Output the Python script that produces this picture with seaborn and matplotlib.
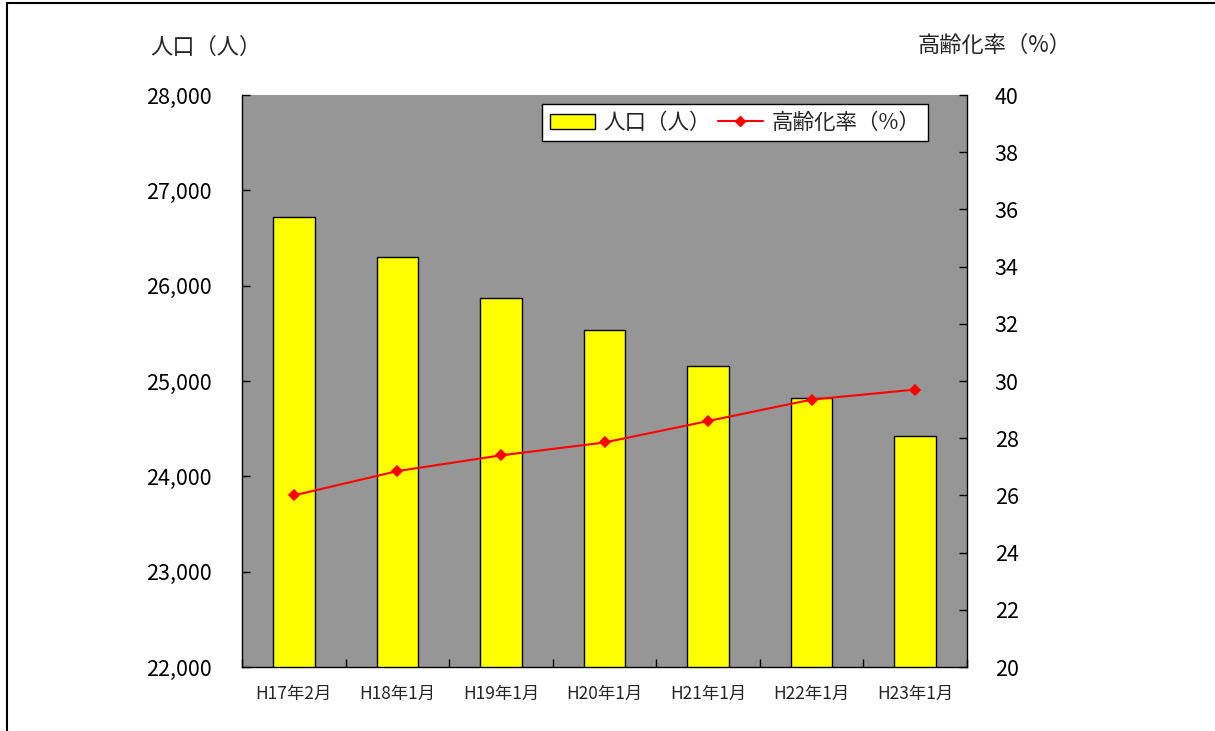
import matplotlib
matplotlib.use("Agg")
import matplotlib.pyplot as plt
import seaborn as sns
import pandas as pd
from matplotlib.patches import Rectangle, Patch
from matplotlib.lines import Line2D
from matplotlib.ticker import FuncFormatter, FixedLocator

categories = ["H17年2月", "H18年1月", "H19年1月", "H20年1月", "H21年1月", "H22年1月", "H23年1月"]
population = [26720, 26300, 25870, 25535, 25155, 24820, 24420]
aging_rate = [26.0, 26.85, 27.4, 27.85, 28.6, 29.35, 29.7]

sns.set_theme(style="white")
plt.rcParams['font.family'] = ['Noto Sans CJK JP', 'DejaVu Sans']

df = pd.DataFrame({"cat": categories, "pop": population, "rate": aging_rate})

fig = plt.figure(figsize=(12.15, 7.31), dpi=100)
ax = fig.add_axes([242/1215, 64/731, 725/1215, 572/731])
ax.set_facecolor("#969696")

sns.barplot(data=df, x="cat", y="pop", ax=ax, color="#FFFF00", edgecolor="black",
            linewidth=1.0, width=0.4, saturation=1)
ax.set_ylim(22000, 28000)
ax.set_xlim(-0.5, 6.5)
ax.set_yticks(range(22000, 28001, 1000))
ax.yaxis.set_major_formatter(FuncFormatter(lambda v, p: f"{int(v):,}"))
ax.set_xlabel("")
ax.set_ylabel("")

ax2 = ax.twinx()
sns.pointplot(data=df, x="cat", y="rate", ax=ax2, color="red", markers="D",
              linewidth=1.5, markersize=5)
ax2.set_ylim(20, 40)
ax2.set_xlim(-0.5, 6.5)
ax2.set_yticks(range(20, 41, 2))
ax2.set_ylabel("")
ax2.set_xlabel("")

for a in (ax, ax2):
    for s in a.spines.values():
        s.set_visible(False)
ax.spines['left'].set_visible(True)
ax.spines['bottom'].set_visible(True)
ax2.spines['right'].set_visible(True)
for s in (ax.spines['left'], ax.spines['bottom'], ax2.spines['right']):
    s.set_color("black")
    s.set_linewidth(1.0)

ax.tick_params(axis='y', direction='in', length=6, width=1, colors='black', labelsize=15.5, pad=22, left=True)
ax2.tick_params(axis='y', direction='in', length=6, width=1, colors='black', labelsize=15.5, pad=20, right=True)
ax.tick_params(axis='x', which='major', length=0, labelsize=12.5, pad=13)
ax.xaxis.set_minor_locator(FixedLocator([i + 0.5 for i in range(-1, 7)]))
ax.tick_params(axis='x', which='minor', direction='in', length=6, width=1, bottom=True, colors='black')

handles = [Patch(facecolor="#FFFF00", edgecolor="black", label="人口（人）"),
           Line2D([0], [0], color="red", marker="D", markersize=5, lw=1.5, label="高齢化率（%）")]
leg = ax2.legend(handles=handles, loc="upper right", bbox_to_anchor=(0.946, 0.984), ncol=2,
                 fontsize=15.5, frameon=True, fancybox=False, edgecolor="black", framealpha=1,
                 handlelength=2.1, columnspacing=0.3, handletextpad=0.4, borderpad=0.35,
                 borderaxespad=0)
leg.get_frame().set_linewidth(1.0)
leg.get_frame().set_facecolor("white")

fig.text(150/1215, 1 - 47/731, "人口（人）", fontsize=16, va="center", ha="left")
fig.text(1072/1215, 1 - 45/731, "高齢化率（%）", fontsize=16, va="center", ha="right")

fig.patches.append(Rectangle((7/1215, -0.1), 1.2, 1.1 - 3/731, transform=fig.transFigure,
                             fill=False, edgecolor="black", linewidth=1.5))

fig.savefig("out.png", dpi=100)
